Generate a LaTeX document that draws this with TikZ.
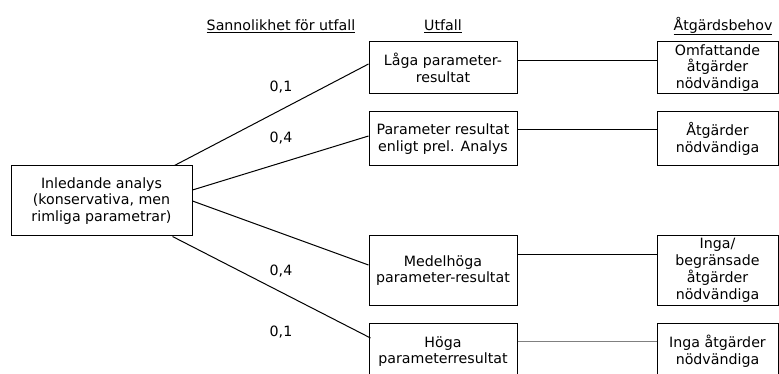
\documentclass[tikz,border=0pt]{standalone}
\usepackage{fontspec}
\setmainfont{DejaVu Sans}
\usetikzlibrary{calc}
\tikzset{
  box/.style={draw=black, line width=1pt, inner sep=0pt, align=center, font=\fontsize{14.2}{16.8}\selectfont},
  txt/.style={inner sep=0pt, font=\fontsize{14.2}{16.8}\selectfont},
  conn/.style={line width=1pt, draw=black},
  gconn/.style={line width=1pt, draw=black!50}
}
\begin{document}
\begin{tikzpicture}[x=1pt,y=-1pt]
\useasboundingbox (0,0) rectangle (779,374);
% headers
\node[txt] (h1) at (281,26) {\underline{Sannolikhet för utfall}};
\node[txt] (h2) at (443,26) {\underline{Utfall}};
\node[txt] (h3) at (723,26) {\underline{Åtgärdsbehov}};
% boxes
\node[box, minimum width=181, minimum height=70] (lft) at (101.5,201) {Inledande analys\\(konservativa, men\\rimliga parametrar)};
\node[box, minimum width=148, minimum height=52] (low) at (443,68) {Låga parameter-\\resultat};
\node[box, minimum width=148, minimum height=54] (par) at (443,139) {Parameter resultat\\enligt prel. Analys};
\node[box, minimum width=148, minimum height=69] (med) at (443,270.5) {Medelhöga\\parameter-resultat};
\node[box, minimum width=148, minimum height=57] (hog) at (443,351.5) {Höga\\parameterresultat};
\node[box, minimum width=121, minimum height=52] (omf) at (717.5,68) {Omfattande\\åtgärder\\nödvändiga};
\node[box, minimum width=121, minimum height=54] (atg) at (717.5,139) {Åtgärder\\nödvändiga};
\node[box, minimum width=121, minimum height=69] (inga) at (717.5,270.5) {Inga/\\begränsade\\åtgärder\\nödvändiga};
\node[box, minimum width=121, minimum height=57] (ingaat) at (717.5,351.5) {Inga åtgärder\\nödvändiga};
% probabilities
\node[txt] (p1) at (281,87) {0,1};
\node[txt] (p2) at (281,138) {0,4};
\node[txt] (p3) at (281,271) {0,4};
\node[txt] (p4) at (281,332) {0,1};
% connectors from initial analysis
\draw[conn] ($(lft.north east)+(-18,0)$) -- ($(low.west)+(0,-4)$);
\draw[conn] ($(lft.east)+(0,-11)$) -- ($(par.west)+(0,-3)$);
\draw[conn] (lft.east) -- ($(med.west)+(0,-5.5)$);
\draw[conn] ($(lft.south east)+(-20,0)$) -- ($(hog.west)+(2,-13.5)$);
% horizontal connectors
\draw[conn] ($(low.east)+(0,-7)$) -- ($(omf.west)+(0,-7)$);
\draw[conn] ($(par.east)+(0,-9)$) -- ($(atg.west)+(0,-9)$);
\draw[conn] ($(med.east)+(0,-16.5)$) -- ($(inga.west)+(0,-16.5)$);
\draw[gconn] ($(hog.east)+(0,-10.5)$) -- ($(ingaat.west)+(0,-10.5)$);
\end{tikzpicture}
\end{document}
